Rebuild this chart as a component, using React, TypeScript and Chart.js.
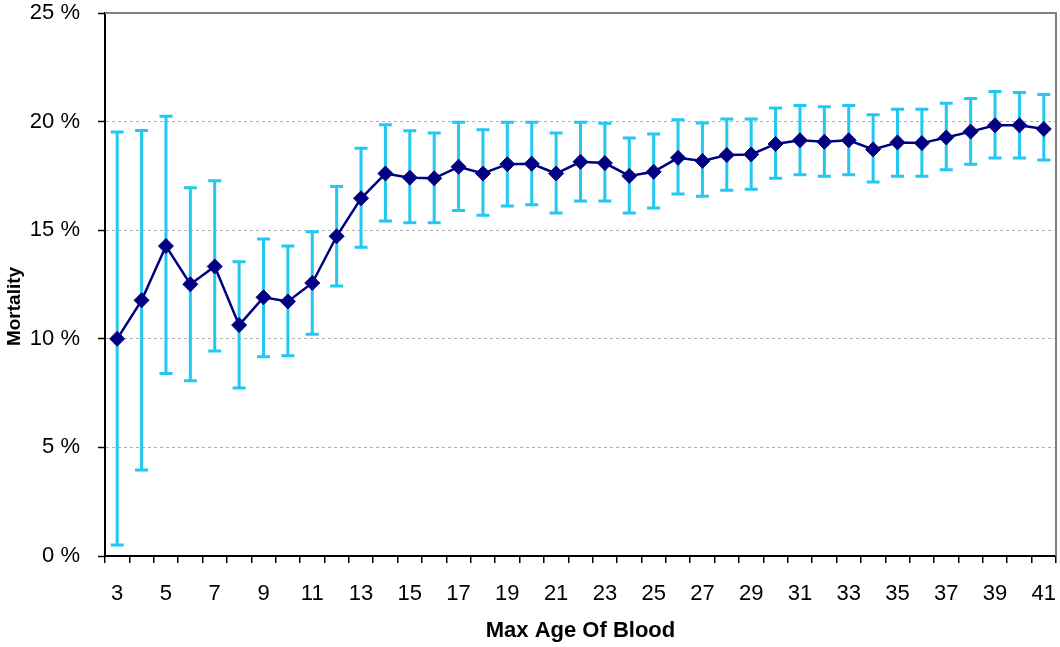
import { useEffect, useRef } from 'react';
import { Chart, registerables } from 'chart.js';

Chart.register(...registerables);

const categories: string[] = [
  '3', '4', '5', '6', '7', '8', '9', '10', '11', '12', '13', '14', '15', '16', '17', '18', '19', '20', '21', '22',
  '23', '24', '25', '26', '27', '28', '29', '30', '31', '32', '33', '34', '35', '36', '37', '38', '39', '40', '41',
];

const mortality: number[] = [
  10.0, 11.77, 14.27, 12.51, 13.33, 10.63, 11.91, 11.72, 12.57, 14.72, 16.47, 17.61, 17.42, 17.39, 17.92, 17.61,
  18.04, 18.06, 17.61, 18.15, 18.09, 17.5, 17.69, 18.33, 18.19, 18.46, 18.49, 18.97, 19.14, 19.07, 19.14, 18.72,
  19.04, 19.01, 19.27, 19.54, 19.83, 19.83, 19.66,
];

const upper: number[] = [
  19.52, 19.59, 20.25, 16.96, 17.28, 13.55, 14.6, 14.27, 14.93, 17.01, 18.77, 19.86, 19.58, 19.48, 19.97, 19.63,
  19.97, 19.97, 19.48, 19.97, 19.92, 19.24, 19.43, 20.08, 19.94, 20.12, 20.12, 20.63, 20.74, 20.68, 20.74, 20.31,
  20.57, 20.57, 20.85, 21.06, 21.39, 21.34, 21.25,
];

const lower: number[] = [
  0.51, 3.96, 8.4, 8.07, 9.44, 7.74, 9.17, 9.22, 10.21, 12.43, 14.21, 15.42, 15.34, 15.34, 15.91, 15.69, 16.11,
  16.17, 15.79, 16.34, 16.34, 15.79, 16.02, 16.67, 16.56, 16.84, 16.88, 17.39, 17.55, 17.48, 17.55, 17.22, 17.48,
  17.48, 17.78, 18.04, 18.32, 18.32, 18.23,
];

const yTitle = 'Mortality';
const xTitle = 'Max Age Of Blood';

const FONT = "'Liberation Sans', Arial, sans-serif";

const errorBarPlugin = {
  id: 'errorBars',
  beforeDatasetsDraw(chart: any) {
    const { ctx, chartArea, scales } = chart;
    const x = scales.x;
    const y = scales.y;
    ctx.save();
    // frame (top & right)
    ctx.strokeStyle = '#808080';
    ctx.lineWidth = 2;
    ctx.beginPath();
    ctx.moveTo(chartArea.left, chartArea.top);
    ctx.lineTo(chartArea.right, chartArea.top);
    ctx.lineTo(chartArea.right, chartArea.bottom);
    ctx.stroke();
    // error bars
    ctx.strokeStyle = '#22c8f0';
    ctx.lineWidth = 3;
    categories.forEach((_c, i) => {
      const px = x.getPixelForValue(i);
      const yt = y.getPixelForValue(upper[i]);
      const yb = y.getPixelForValue(lower[i]);
      ctx.beginPath();
      ctx.moveTo(px, yt);
      ctx.lineTo(px, yb);
      ctx.moveTo(px - 6.5, yt);
      ctx.lineTo(px + 6.5, yt);
      ctx.moveTo(px - 6.5, yb);
      ctx.lineTo(px + 6.5, yb);
      ctx.stroke();
    });
    ctx.restore();
  },
  afterDraw(chart: any) {
    const { ctx, chartArea } = chart;
    ctx.save();
    ctx.translate(15, (chartArea.top + chartArea.bottom) / 2 + 22);
    ctx.rotate(-Math.PI / 2);
    ctx.font = `bold 19px ${FONT}`;
    ctx.fillStyle = '#000';
    ctx.textAlign = 'center';
    ctx.textBaseline = 'middle';
    ctx.fillText(yTitle, 0, 0);
    ctx.restore();
  },
};

export default function App() {
  const canvasRef = useRef<HTMLCanvasElement | null>(null);

  useEffect(() => {
    document.body.style.margin = '0';
    const canvas = canvasRef.current;
    if (!canvas) return;
    const chart = new Chart(canvas, {
      type: 'line',
      data: {
        labels: categories,
        datasets: [
          {
            data: mortality,
            borderColor: '#000080',
            borderWidth: 2.5,
            pointStyle: 'rectRot',
            pointRadius: 7.5,
            pointBackgroundColor: '#000080',
            pointBorderColor: '#000080',
            pointBorderWidth: 1,
            tension: 0,
            clip: false,
          },
        ],
      },
      options: {
        responsive: false,
        animation: false,
        layout: { autoPadding: false, padding: { top: 13, right: 4, left: 0, bottom: 0 } },
        plugins: {
          legend: { display: false },
          tooltip: { enabled: false },
        },
        scales: {
          x: {
            type: 'category',
            offset: true,
            grid: {
              offset: true,
              drawOnChartArea: false,
              drawTicks: true,
              tickLength: 7,
              color: '#000',
              lineWidth: 1.5,
            },
            border: { color: '#000', width: 2 },
            ticks: {
              autoSkip: false,
              maxRotation: 0,
              minRotation: 0,
              color: '#000',
              padding: 18,
              font: { family: FONT, size: 22 },
              callback: function (this: any, val: any, idx: number) {
                return idx % 2 === 0 ? this.getLabelForValue(val) : '';
              },
            },
            title: {
              display: true,
              text: xTitle,
              color: '#000',
              font: { family: FONT, size: 22, weight: 'bold' },
              padding: { top: 0, bottom: 3 },
            },
            afterFit(scale: any) {
              scale.height = 91;
              scale.paddingLeft = 0;
              scale.paddingRight = 0;
            },
          },
          y: {
            min: 0,
            max: 25,
            grid: {
              color: '#b0b0b0',
              lineWidth: 1,
              tickColor: '#000',
              tickLength: 7,
              tickWidth: 1.5,
            },
            border: { color: '#000', width: 2, dash: [3, 3] },
            ticks: {
              stepSize: 5,
              color: '#000',
              padding: 18,
              font: { family: FONT, size: 22 },
              callback: (v: any) => `${v} %`,
            },
            title: { display: false },
            afterFit(scale: any) {
              scale.width = 105;
              scale.paddingTop = 0;
              scale.paddingBottom = 0;
            },
          },
        },
      },
      plugins: [errorBarPlugin],
    } as any);
    return () => chart.destroy();
  }, []);

  return (
    <div style={{ width: 1060, height: 647 }}>
      <canvas ref={canvasRef} width={1060} height={647} style={{ display: 'block' }} />
    </div>
  );
}
